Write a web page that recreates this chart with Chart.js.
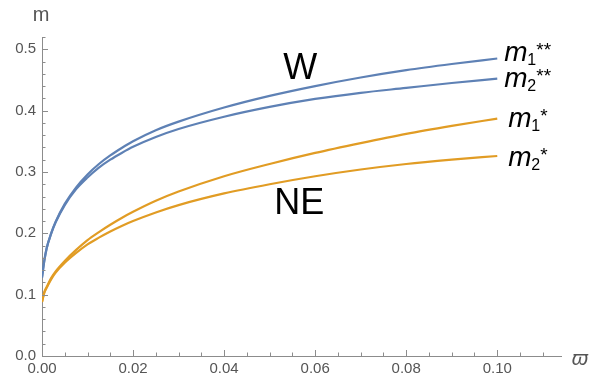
<!DOCTYPE html>
<html>
<head>
<meta charset="utf-8">
<script src="https://cdn.jsdelivr.net/npm/chart.js@4.4.1/dist/chart.umd.min.js"></script>
<style>
html, body { margin: 0; padding: 0; background: #fff; }
</style>
</head>
<body>
<canvas id="plot" width="589" height="381"></canvas>
<script>
// values
var OMEGA = [0, 0.0005, 0.001, 0.002, 0.003, 0.005, 0.0075, 0.01, 0.0125, 0.015, 0.0175, 0.02, 0.025, 0.03, 0.04, 0.05, 0.06, 0.07, 0.08, 0.09, 0.10];
var M1_W  = [0.128, 0.155, 0.175, 0.200, 0.219, 0.248, 0.275, 0.296, 0.313, 0.327, 0.339, 0.350, 0.368, 0.382, 0.405, 0.424, 0.440, 0.454, 0.466, 0.476, 0.485];
var M2_W  = [0.128, 0.155, 0.175, 0.199, 0.218, 0.246, 0.272, 0.291, 0.307, 0.320, 0.331, 0.341, 0.357, 0.370, 0.390, 0.406, 0.419, 0.429, 0.437, 0.445, 0.452];
var M1_NE = [0.088, 0.104, 0.112, 0.127, 0.138, 0.155, 0.173, 0.189, 0.202, 0.214, 0.225, 0.235, 0.253, 0.268, 0.293, 0.313, 0.331, 0.347, 0.362, 0.375, 0.387];
var M2_NE = [0.088, 0.103, 0.111, 0.125, 0.136, 0.152, 0.168, 0.182, 0.193, 0.203, 0.212, 0.220, 0.234, 0.246, 0.265, 0.280, 0.293, 0.304, 0.313, 0.320, 0.326];

var X_TICKS = [0, 0.02, 0.04, 0.06, 0.08, 0.10];
var Y_TICKS = [0, 0.1, 0.2, 0.3, 0.4, 0.5];
var SERIES_SUB = ["1", "2", "1", "2"];
var SERIES_SUP = ["**", "**", "*", "*"];

var BLUE = "#5e81b5", ORANGE = "#e19c24";
var AXIS = "#8c8c8c", LABEL = "#555555";
var FONT = "'Liberation Sans', Arial, sans-serif";

function pts(ys) {
    return OMEGA.map(function (x, i) { return { x: x, y: ys[i] }; });
}

// offsets of the curve-end labels, in pixels from the last point
var LABEL_OFF = [[7, -5], [7, 0], [11, 0], [11, 2]];

var decor = {
    id: 'decor',
    afterDraw: function (chart) {
        var c = chart.ctx, xs = chart.scales.x, ys = chart.scales.y;
        var y0 = ys.getPixelForValue(0), x0 = xs.getPixelForValue(0);
        c.save();
        c.strokeStyle = AXIS;
        c.lineWidth = 1;
        c.beginPath();
        // x ticks, pointing up into the plot
        for (var i = 0; i <= 22; i++) {
            var v = i * 0.005, px = Math.round(xs.getPixelForValue(v)) + 0.5;
            var len = (i % 4 === 0) ? 6 : 3.5;
            c.moveTo(px, y0);
            c.lineTo(px, y0 - len);
        }
        // y ticks, pointing right
        for (var j = 0; j <= 26; j++) {
            var w = j * 0.02, py = Math.round(ys.getPixelForValue(w)) + 0.5;
            var l2 = (j % 5 === 0) ? 6 : 3.5;
            c.moveTo(x0, py);
            c.lineTo(x0 + l2, py);
        }
        c.stroke();

        // axis labels
        c.fillStyle = LABEL;
        c.textAlign = 'center';
        c.textBaseline = 'middle';
        c.font = "20px " + FONT;
        c.fillText("m", x0 - 1, 15);
        c.font = "italic 21px " + FONT;
        c.fillText("\u03D6", 580, 359);

        // region labels
        c.fillStyle = "#000";
        c.font = "36px " + FONT;
        c.fillText("W", xs.getPixelForValue(0.0567), ys.getPixelForValue(0.468));
        c.fillText("NE", xs.getPixelForValue(0.0565), ys.getPixelForValue(0.248));

        // curve labels
        c.textAlign = 'left';
        c.textBaseline = 'alphabetic';
        chart.data.datasets.forEach(function (ds, k) {
            var last = ds.data[ds.data.length - 1];
            var lx = xs.getPixelForValue(last.x) + LABEL_OFF[k][0];
            var base = ys.getPixelForValue(last.y) + LABEL_OFF[k][1] + 8;
            c.font = "italic 28px " + FONT;
            c.fillText("m", lx, base);
            c.font = "16px " + FONT;
            c.fillText(SERIES_SUB[k], lx + 23, base + 4);
            c.font = "19px " + FONT;
            c.fillText(SERIES_SUP[k], lx + 32, base - 5);
        });
        c.restore();
    }
};

var ctx = document.getElementById("plot").getContext("2d");
var chart = new Chart(ctx, {
    type: 'line',
    data: {
        datasets: [
            { label: "m1**", data: pts(M1_W), borderColor: BLUE },
            { label: "m2**", data: pts(M2_W), borderColor: BLUE },
            { label: "m1*", data: pts(M1_NE), borderColor: ORANGE },
            { label: "m2*", data: pts(M2_NE), borderColor: ORANGE }
        ]
    },
    options: {
        responsive: false,
        animation: false,
        devicePixelRatio: 1,
        layout: { padding: { top: 37, right: 28, left: 0, bottom: 0 } },
        elements: {
            line: { borderWidth: 2.2, cubicInterpolationMode: 'monotone', fill: false },
            point: { radius: 0, hoverRadius: 0 }
        },
        plugins: { legend: { display: false }, tooltip: { enabled: false } },
        scales: {
            x: {
                type: 'linear',
                min: 0,
                max: 0.114,
                afterBuildTicks: function (s) { s.ticks = X_TICKS.map(function (v) { return { value: v }; }); },
                afterFit: function (s) { s.height = 25; },
                grid: { display: false, drawTicks: false },
                border: { display: true, color: AXIS, width: 1 },
                ticks: {
                    autoSkip: false,
                    maxRotation: 0,
                    padding: 4,
                    color: LABEL,
                    font: { family: FONT, size: 15 },
                    callback: function (v) { return v.toFixed(2); }
                }
            },
            y: {
                min: 0,
                max: 0.52,
                afterBuildTicks: function (s) { s.ticks = Y_TICKS.map(function (v) { return { value: v }; }); },
                afterFit: function (s) { s.width = 42; },
                grid: { display: false, drawTicks: false },
                border: { display: true, color: AXIS, width: 1 },
                ticks: {
                    autoSkip: false,
                    padding: 6,
                    color: LABEL,
                    font: { family: FONT, size: 15 },
                    callback: function (v) { return v.toFixed(1); }
                }
            }
        }
    },
    plugins: [decor]
});
</script>
</body>
</html>
